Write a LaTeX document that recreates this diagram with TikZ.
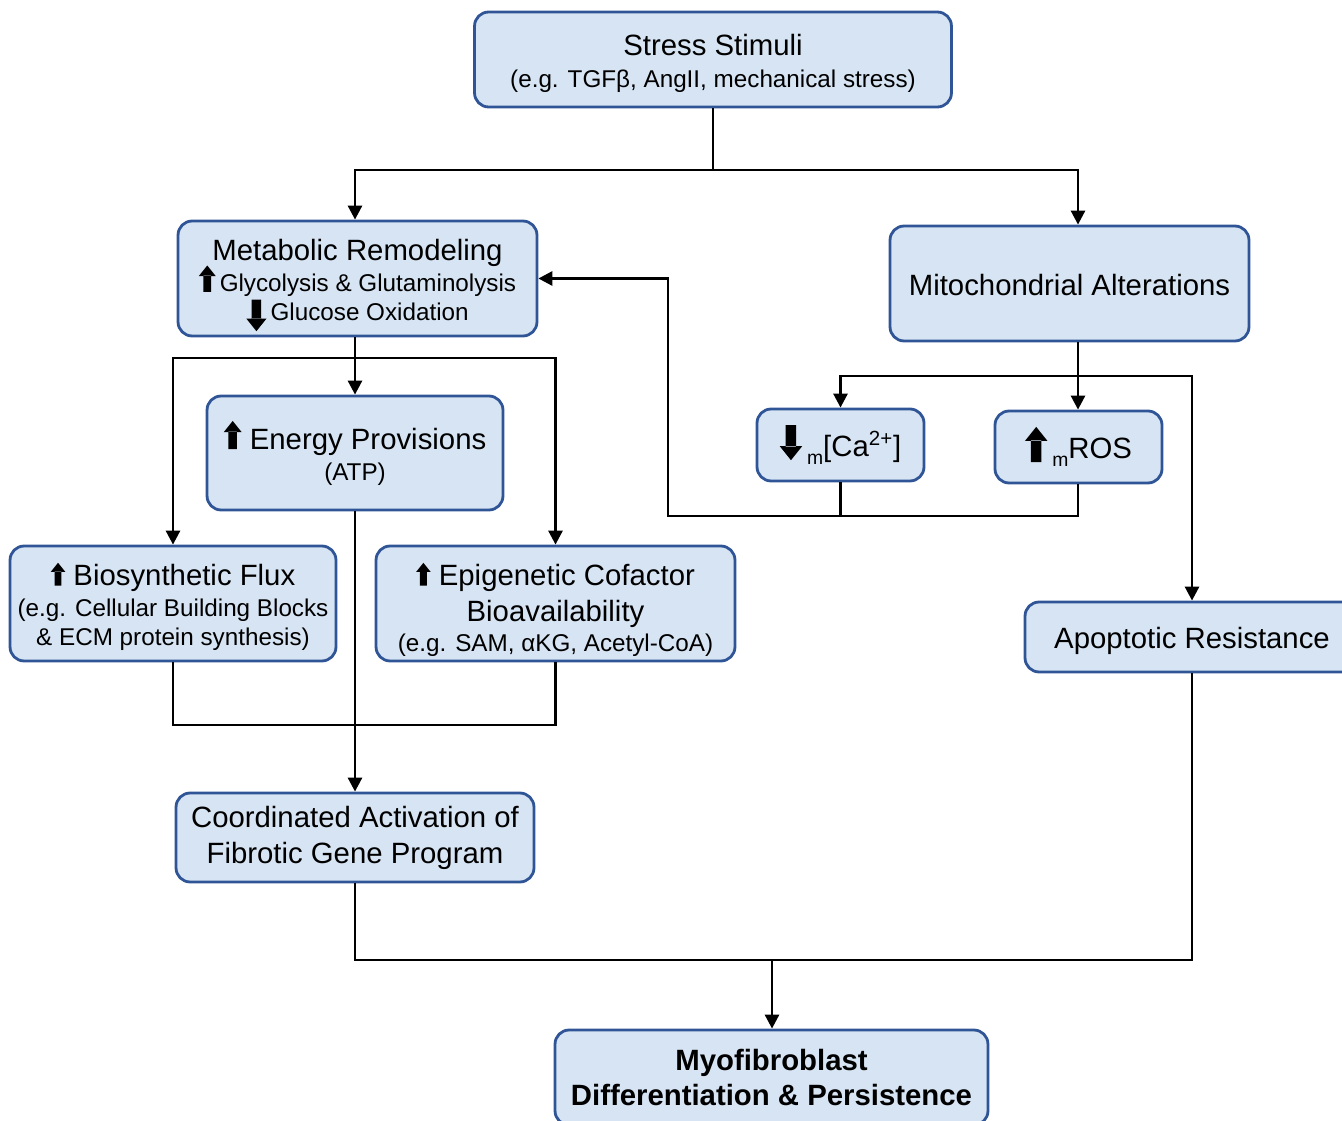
\documentclass[tikz,border=0pt]{standalone}
\usepackage{fontspec}
\setmainfont{Liberation Sans}
\usetikzlibrary{arrows.meta}
\definecolor{boxfill}{RGB}{214,228,243}
\definecolor{boxline}{RGB}{47,85,151}
% thick up/down arrows used inside the labels
\newcommand{\upa}[1][13]{\smash{\tikz[baseline=0pt,sharp corners,x=#1pt,y=#1pt]\fill[black] (-0.15,0) rectangle (0.15,0.62) (-0.32,0.6) -- (0.32,0.6) -- (0,1) -- cycle;}}
\newcommand{\dna}[1][13]{\smash{\tikz[baseline=0pt,sharp corners,x=#1pt,y=#1pt]\fill[black] (-0.15,1) rectangle (0.15,0.38) (-0.32,0.4) -- (0.32,0.4) -- (0,0) -- cycle;}}
\newcommand{\subtxt}[1]{{\fontsize{13.8}{16.4}\selectfont #1}}
\newcommand{\mitosub}{{\fontsize{11}{11}\selectfont\raisebox{-4.5pt}{m}}}
\newcommand{\tstrut}[1]{\rule{0pt}{#1pt}}
\tikzset{
  box/.style={draw=boxline, fill=boxfill, line width=1.6pt, rounded corners=8pt,
    inner sep=0pt, align=center, font=\fontsize{16.7}{20.4}\selectfont},
  arr/.style={line width=1.6pt, -{Triangle[length=8pt,width=8pt]}},
  link/.style={line width=1.6pt}
}
\begin{document}
\begin{tikzpicture}[x=0.02cm,y=-0.02cm]
  \useasboundingbox (0,0) rectangle (1342,1121);
  \clip (0,0) rectangle (1342,1121);

  \node[box, minimum width=9.54cm, minimum height=1.9cm] (stress) at (713,59.5)
    {\tstrut{16.5}Stress Stimuli\\[-2.4pt] \subtxt{(e.g. TGFβ, AngII, mechanical stress)}};
  \node[box, minimum width=7.18cm, minimum height=2.3cm] (meta) at (357.5,278.5)
    {\tstrut{19.5}Metabolic Remodeling\\[-2.3pt] \subtxt{\upa[15]\,Glycolysis \& Glutaminolysis}\\[-4pt]
     \subtxt{\raisebox{-6pt}{\dna[18]}\,Glucose Oxidation}};
  \node[box, minimum width=7.18cm, minimum height=2.3cm] (mito) at (1069.5,283.5)
    {\tstrut{14.2}Mitochondrial Alterations};
  \node[box, minimum width=5.92cm, minimum height=2.28cm] (energy) at (355,453)
    {\tstrut{16.5}\upa[16] Energy Provisions\\[-2.3pt] \subtxt{(ATP)}};
  \node[box, minimum width=3.34cm, minimum height=1.44cm] (ca) at (840.5,445)
    {\tstrut{17.8}\raisebox{-2pt}{\dna[20]}\,\mitosub[Ca\textsuperscript{2+}]};
  \node[box, minimum width=3.34cm, minimum height=1.44cm] (ros) at (1078.5,447)
    {\tstrut{17.6}\raisebox{-2pt}{\upa[20]}\,\mitosub ROS};
  \node[box, minimum width=6.52cm, minimum height=2.3cm] (bio) at (173,603.5)
    {\tstrut{16.5}\upa[13] Biosynthetic Flux\\[-2.8pt] \subtxt{(e.g. Cellular Building Blocks}\\[-4pt]
     \subtxt{\& ECM protein synthesis)}};
  \node[box, minimum width=7.18cm, minimum height=2.3cm] (epi) at (555.5,603.5)
    {\tstrut{20}\upa[13] Epigenetic Cofactor\\ Bioavailability\\[-3.4pt]
     \subtxt{(e.g. SAM, αKG, Acetyl-CoA)}};
  \node[box, minimum width=6.68cm, minimum height=1.4cm] (apop) at (1192,637)
    {\tstrut{16.5}Apoptotic Resistance};
  \node[box, minimum width=7.16cm, minimum height=1.78cm] (coord) at (355,837.5)
    {Coordinated Activation of\\ Fibrotic Gene Program};
  \node[box, minimum width=8.66cm, minimum height=1.9cm, font=\fontsize{16.7}{20.4}\selectfont\bfseries]
    (myo) at (771.5,1077.5) {Myofibroblast\\ Differentiation \& Persistence};

  \coordinate (s1) at (713,170);
  \coordinate (s2) at (355,358);
  \coordinate (s3) at (1078,376);
  \coordinate (fb) at (668,516);
  \coordinate (s4) at (772,960);

  \draw[link] (stress) -- (s1);
  \draw[arr] (s1) -| (meta.north -| s2);
  \draw[arr] (s1) -| (mito.north -| s3);

  \draw[arr] (meta.south -| s2) -- (energy.north);
  \draw[arr] (s2) -| (bio.north);
  \draw[arr] (s2) -| (epi.north);
  \draw[arr] (energy) -- (coord);
  \draw[link] (bio.south) |- (epi.south |- 0,725) -- (epi.south);

  \draw[arr] (mito.south -| s3) -- (ros.north -| s3);
  \draw[arr] (s3) -| (ca.north);
  \draw[arr] (s3) -| (apop.north);
  \draw[link] (ca.south) -- (ca.south |- fb);
  \draw[arr] (ros.south -| s3) |- (fb) |- (meta.east);

  \draw[link] (coord.south) |- (s4 -| apop) -- (apop.south);
  \draw[arr] (s4) -- (myo.north -| s4);
\end{tikzpicture}
\end{document}
